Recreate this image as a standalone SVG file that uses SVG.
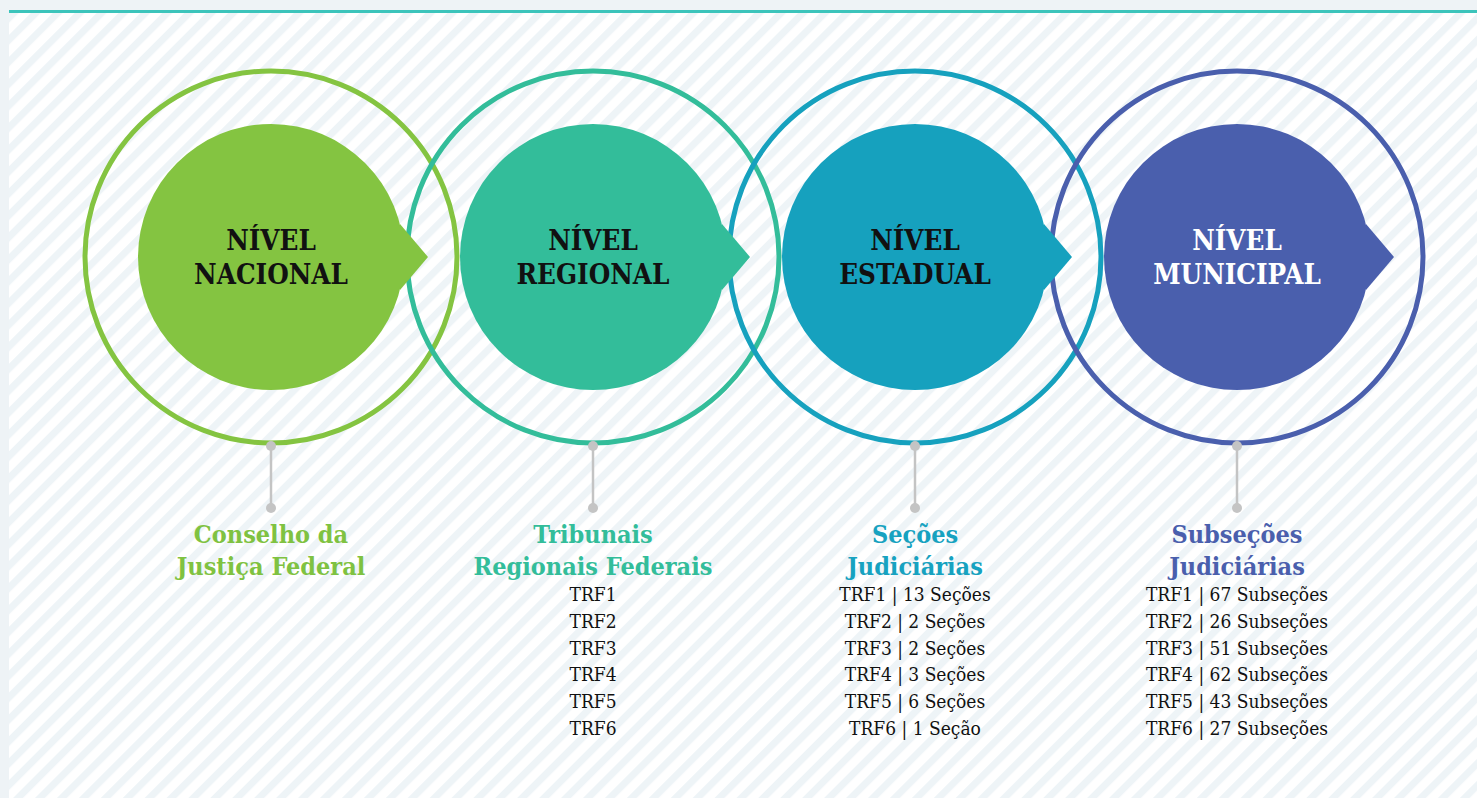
<svg xmlns="http://www.w3.org/2000/svg" width="1477" height="798" viewBox="0 0 1477 798">
<defs>
<pattern id="stripes" patternUnits="userSpaceOnUse" width="15.5" height="15.5" patternTransform="rotate(45)">
<rect x="0" y="0" width="15.5" height="15.5" fill="#ffffff"/>
<rect x="0" y="0" width="7" height="15.5" fill="#eef4f7"/>
</pattern>
<style>
.ring{fill:none;stroke-width:5}
.hd{font-family:"DejaVu Serif Condensed","DejaVu Serif",serif;font-weight:bold;font-size:27.5px;text-anchor:middle}
.lb{font-family:"DejaVu Serif Condensed","DejaVu Serif",serif;font-weight:bold;font-size:25px;text-anchor:middle}
.ls{font-family:"DejaVu Serif Condensed","DejaVu Serif",serif;font-size:19px;text-anchor:middle;fill:#111111}
.pin line{stroke:#c4c4c4;stroke-width:2.5}
.pin circle{fill:#c4c4c4}
</style>
</defs>
<rect x="0" y="0" width="1477" height="798" fill="#eef3f6"/>
<rect x="9" y="13" width="1468" height="785" fill="url(#stripes)"/>
<rect x="9" y="10" width="1468" height="3" fill="#3cc4bb"/>

<g id="rings">
<circle class="ring" cx="271" cy="257" r="186" stroke="#84c441"/>
<circle class="ring" cx="593" cy="257" r="186" stroke="#33bd9a"/>
<circle class="ring" cx="915" cy="257" r="186" stroke="#16a1be"/>
<circle class="ring" cx="1237" cy="257" r="186" stroke="#4a5fad"/>
</g>

<g id="connectors" class="pin">
<line x1="271" y1="446" x2="271" y2="508"/><circle cx="271" cy="446" r="5"/><circle cx="271" cy="508" r="5"/>
<line x1="593" y1="446" x2="593" y2="508"/><circle cx="593" cy="446" r="5"/><circle cx="593" cy="508" r="5"/>
<line x1="915" y1="446" x2="915" y2="508"/><circle cx="915" cy="446" r="5"/><circle cx="915" cy="508" r="5"/>
<line x1="1237" y1="446" x2="1237" y2="508"/><circle cx="1237" cy="446" r="5"/><circle cx="1237" cy="508" r="5"/>
</g>

<g id="node-nacional">
<circle cx="271" cy="257" r="133" fill="#84c441"/>
<polygon points="400,224 428,257 400,290" fill="#84c441"/>
<text class="hd" x="271" y="250" fill="#111111">NÍVEL</text>
<text class="hd" x="271" y="284" fill="#111111">NACIONAL</text>
<text class="lb" x="271" y="543" fill="#7fc241">Conselho da</text>
<text class="lb" x="271" y="575" fill="#7fc241">Justiça Federal</text>
</g>

<g id="node-regional">
<circle cx="593" cy="257" r="133" fill="#33bd9a"/>
<polygon points="722,224 750,257 722,290" fill="#33bd9a"/>
<text class="hd" x="593" y="250" fill="#111111">NÍVEL</text>
<text class="hd" x="593" y="284" fill="#111111">REGIONAL</text>
<text class="lb" x="593" y="543" fill="#33bd9a">Tribunais</text>
<text class="lb" x="593" y="575" fill="#33bd9a">Regionais Federais</text>
<text class="ls" x="593" y="601">TRF1</text>
<text class="ls" x="593" y="628">TRF2</text>
<text class="ls" x="593" y="655">TRF3</text>
<text class="ls" x="593" y="681">TRF4</text>
<text class="ls" x="593" y="708">TRF5</text>
<text class="ls" x="593" y="735">TRF6</text>
</g>

<g id="node-estadual">
<circle cx="915" cy="257" r="133" fill="#16a1be"/>
<polygon points="1044,224 1072,257 1044,290" fill="#16a1be"/>
<text class="hd" x="915" y="250" fill="#111111">NÍVEL</text>
<text class="hd" x="915" y="284" fill="#111111">ESTADUAL</text>
<text class="lb" x="915" y="543" fill="#17a2c0">Seções</text>
<text class="lb" x="915" y="575" fill="#17a2c0">Judiciárias</text>
<text class="ls" x="915" y="601">TRF1 | 13 Seções</text>
<text class="ls" x="915" y="628">TRF2 | 2 Seções</text>
<text class="ls" x="915" y="655">TRF3 | 2 Seções</text>
<text class="ls" x="915" y="681">TRF4 | 3 Seções</text>
<text class="ls" x="915" y="708">TRF5 | 6 Seções</text>
<text class="ls" x="915" y="735">TRF6 | 1 Seção</text>
</g>

<g id="node-municipal">
<circle cx="1237" cy="257" r="133" fill="#4a5fad"/>
<polygon points="1366,224 1394,257 1366,290" fill="#4a5fad"/>
<text class="hd" x="1237" y="250" fill="#ffffff">NÍVEL</text>
<text class="hd" x="1237" y="284" fill="#ffffff">MUNICIPAL</text>
<text class="lb" x="1237" y="543" fill="#4a5fad">Subseções</text>
<text class="lb" x="1237" y="575" fill="#4a5fad">Judiciárias</text>
<text class="ls" x="1237" y="601">TRF1 | 67 Subseções</text>
<text class="ls" x="1237" y="628">TRF2 | 26 Subseções</text>
<text class="ls" x="1237" y="655">TRF3 | 51 Subseções</text>
<text class="ls" x="1237" y="681">TRF4 | 62 Subseções</text>
<text class="ls" x="1237" y="708">TRF5 | 43 Subseções</text>
<text class="ls" x="1237" y="735">TRF6 | 27 Subseções</text>
</g>
</svg>
